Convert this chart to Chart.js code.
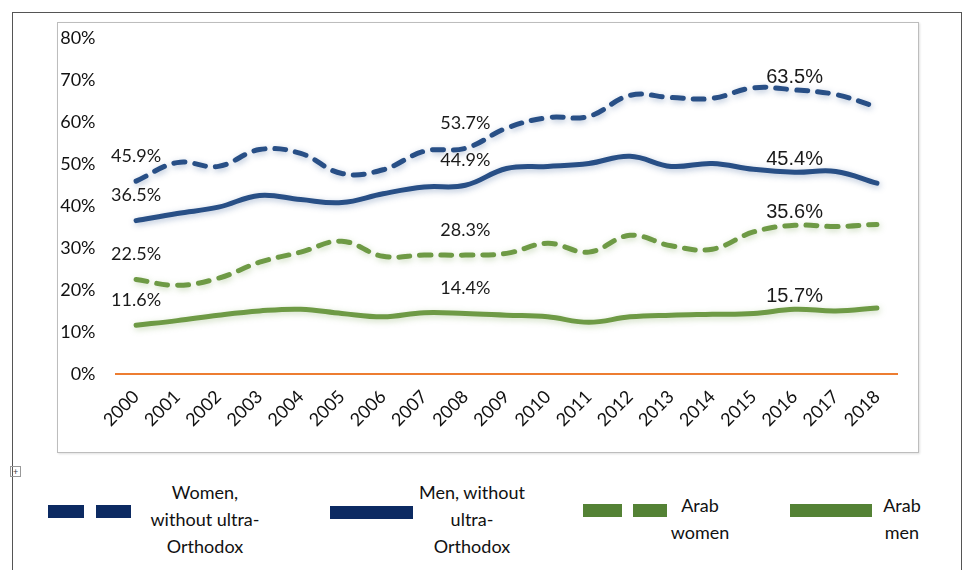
<!DOCTYPE html>
<html>
<head>
<meta charset="utf-8">
<script src="https://cdn.jsdelivr.net/npm/chart.js@4.4.1/dist/chart.umd.min.js"></script>
<style>
  html, body { margin: 0; padding: 0; background: #fff; }
  body { width: 975px; height: 570px; position: relative; overflow: hidden; font-family: Lato, "Open Sans", sans-serif; color: #111; }
  .page { position: absolute; left: 12px; top: 12px; width: 950px; height: 600px; border: 1.5px solid #555; box-sizing: border-box; }
  .frame { position: absolute; left: 57px; top: 22px; width: 862px; height: 431px; border: 1px solid #bdbdbd; box-sizing: border-box; box-shadow: 1px 1px 2px rgba(0,0,0,0.12); }
  #chart-wrap { position: absolute; left: 57px; top: 7px; width: 861px; height: 445px; }
  .handle { position: absolute; left: 10px; top: 466px; width: 9px; height: 9px; border: 1px solid #999; font-size: 9px; line-height: 9px; text-align: center; color: #444; }
  .swatch { position: absolute; height: 13px; }
  .legend-text { position: absolute; width: 170px; text-align: center; font-size: 18px; line-height: 27px; color: #111; }
</style>
</head>
<body>
<div class="page"></div>
<div class="frame"></div>
<div id="chart-wrap"><canvas id="employmentChart"></canvas></div>
<div class="handle">+</div>
<div id="legend"></div>

<script>
const years = ['2000', '2001', '2002', '2003', '2004', '2005', '2006', '2007', '2008', '2009',
               '2010', '2011', '2012', '2013', '2014', '2015', '2016', '2017', '2018'];

const womenNonOrthodox = [45.9, 50.3, 49.4, 53.4, 52.5, 47.7, 48.6, 53.0, 53.7, 58.5,
                          61.0, 61.3, 66.3, 65.8, 65.6, 68.1, 67.6, 66.5, 63.5];
const menNonOrthodox   = [36.5, 38.2, 39.7, 42.5, 41.5, 40.8, 42.9, 44.5, 44.9, 48.9,
                          49.4, 50.1, 51.8, 49.4, 50.1, 48.7, 48.0, 48.2, 45.4];
const arabWomen        = [22.5, 21.1, 22.8, 26.6, 29.0, 31.6, 28.0, 28.3, 28.3, 28.7,
                          31.1, 29.0, 33.0, 30.5, 29.7, 33.8, 35.4, 35.1, 35.6];
const arabMen          = [11.6, 12.7, 14.0, 15.0, 15.4, 14.4, 13.6, 14.6, 14.4, 14.0,
                          13.6, 12.3, 13.6, 14.0, 14.2, 14.4, 15.4, 15.0, 15.7];

const seriesNames = ['Women,\nwithout ultra-\nOrthodox', 'Men, without\nultra-\nOrthodox', 'Arab\nwomen', 'Arab\nmen'];
const yTicks = [0, 10, 20, 30, 40, 50, 60, 70, 80];

const BLUE = '#284f86';
const GREEN = '#6e9a45';

document.addEventListener('DOMContentLoaded', () => {

    const makeSet = (name, data, color, dashed, glow) => ({
        label: name.replace(/\n/g, ' '),
        data: data,
        borderColor: color,
        borderWidth: 5,
        borderDash: dashed ? [11, 10] : [],
        borderCapStyle: 'round',
        borderJoinStyle: 'round',
        tension: 0.4,
        pointRadius: 0,
        fill: false,
        glow: glow
    });

    // soft shadow around each line, like the Excel glow effect
    const lineGlow = {
        id: 'lineGlow',
        beforeDatasetDraw(chart, args) {
            const ctx = chart.ctx;
            ctx.save();
            ctx.shadowColor = chart.data.datasets[args.index].glow;
            ctx.shadowBlur = 6;
            ctx.shadowOffsetX = 1;
            ctx.shadowOffsetY = 2;
        },
        afterDatasetDraw(chart) {
            chart.ctx.restore();
        }
    };

    // value labels: first year, 2008, and the last value written over 2016
    const valueLabels = {
        id: 'valueLabels',
        afterDatasetsDraw(chart) {
            const ctx = chart.ctx;
            const last = years.length - 1;
            ctx.save();
            ctx.fillStyle = '#1a1a1a';
            ctx.textAlign = 'center';
            ctx.textBaseline = 'middle';
            chart.data.datasets.forEach((ds, i) => {
                const pts = chart.getDatasetMeta(i).data;
                ctx.font = '18px Lato, sans-serif';
                [0, 8].forEach(idx => {
                    ctx.fillText(ds.data[idx].toFixed(1) + '%', pts[idx].x, pts[idx].y - 25);
                });
                const topY = Math.min(pts[last - 2].y, pts[last - 1].y, pts[last].y);
                ctx.font = '20px "Liberation Sans", Arial, sans-serif';
                ctx.fillText(ds.data[last].toFixed(1) + '%', pts[last - 2].x, topY - 12);
            });
            ctx.restore();
        }
    };

    new Chart(document.getElementById('employmentChart'), {
        type: 'line',
        data: {
            labels: years,
            datasets: [
                makeSet(seriesNames[0], womenNonOrthodox, BLUE, true, 'rgba(40,80,140,0.35)'),
                makeSet(seriesNames[1], menNonOrthodox, BLUE, false, 'rgba(40,80,140,0.35)'),
                makeSet(seriesNames[2], arabWomen, GREEN, true, 'rgba(110,154,69,0.35)'),
                makeSet(seriesNames[3], arabMen, GREEN, false, 'rgba(110,154,69,0.35)')
            ]
        },
        options: {
            responsive: true,
            maintainAspectRatio: false,
            animation: false,
            layout: { padding: { left: 0, top: 0, right: 20.5, bottom: 0 } },
            plugins: { legend: { display: false }, tooltip: { enabled: false } },
            scales: {
                x: {
                    offset: true,
                    grid: { display: false, drawTicks: false },
                    border: { display: true, color: '#ed7d31', width: 2 },
                    ticks: {
                        minRotation: 45,
                        maxRotation: 45,
                        padding: 12,
                        color: '#111',
                        font: { family: 'Lato', size: 18 }
                    },
                    afterFit: (scale) => { scale.height = 78; }
                },
                y: {
                    min: 0,
                    max: 80,
                    grid: { display: false, drawTicks: false },
                    border: { display: false },
                    afterBuildTicks: (scale) => { scale.ticks = yTicks.map(v => ({ value: v })); },
                    ticks: {
                        padding: 20,
                        color: '#111',
                        font: { family: 'Lato', size: 18 },
                        callback: (v) => v + '%'
                    },
                    afterFit: (scale) => { scale.width = 58.5; }
                }
            }
        },
        plugins: [lineGlow, valueLabels]
    });

    // legend laid out like the Word document below the chart
    const legendColors = ['#0c2a62', '#0c2a62', '#548235', '#548235'];
    const swatchSets = [
        [[48, 36, 505], [96, 35, 505]],
        [[330, 83, 506]],
        [[583, 39, 504], [633, 34, 504]],
        [[790, 82, 504]]
    ];
    const textSpots = [[205, 479], [472, 479], [700, 492], [902, 492]];

    const legend = document.getElementById('legend');
    legend.innerHTML = seriesNames.map((name, i) => {
        const sw = swatchSets[i].map(([l, w, t]) =>
            `<div class="swatch" style="left:${l}px;top:${t}px;width:${w}px;background:${legendColors[i]}"></div>`).join('');
        const [cx, top] = textSpots[i];
        return sw + `<div class="legend-text" style="left:${cx - 85}px;top:${top}px">${name.split('\n').join('<br>')}</div>`;
    }).join('');
});
</script>
</body>
</html>
